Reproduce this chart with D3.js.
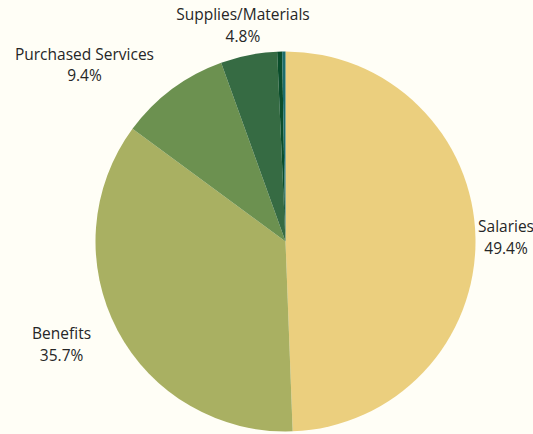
<!DOCTYPE html>
<html><head><meta charset="utf-8">
<script src="https://cdn.jsdelivr.net/npm/d3@7"></script>
<style>html,body{margin:0;padding:0;background:#FFFEF6;overflow:hidden}</style>
</head><body>
<svg id="chart" width="533" height="434"></svg>
<script>
const categories = ["Salaries","Benefits","Purchased Services","Supplies/Materials","Equipment","Other"];
const values = [49.4, 35.7, 9.4, 4.8, 0.42, 0.28];
const labels = ["49.4%","35.7%","9.4%","4.8%","",""];
const colors = ["#EBCF7E","#A9B062","#6C9150","#366B43","#0A4D2B","#1C6D6B"];

const W = 533, H = 434;
const cx = 285.5, cy = 241.5, R = 190;
const svg = d3.select("#chart");
svg.append("rect").attr("width",W).attr("height",H).attr("fill","#FFFEF6");
const g = svg.append("g").attr("transform",`translate(${cx},${cy})`);
const pie = d3.pie().sort(null).value(d=>d.v);
const data = categories.map((c,i)=>({c, v:values[i], l:labels[i], col:colors[i]}));
const arcs = pie(data);
const arc = d3.arc().innerRadius(0).outerRadius(R);
g.selectAll("path").data(arcs).join("path")
  .attr("d",arc).attr("fill",d=>d.data.col);

const lr = R + 30;
const fs = 15.5, lh = 21.5;
arcs.forEach(a=>{
  if(!a.data.l) return;
  const m = (a.startAngle+a.endAngle)/2;
  const s = Math.sin(m), c = Math.cos(m);
  const px = lr*s, py = -lr*c;
  const t = svg.append("text")
    .attr("font-family","'Open Sans', sans-serif").attr("font-size",fs)
    .attr("fill","#262626").attr("text-anchor","middle");
  t.append("tspan").attr("x",0).attr("dy",0).text(a.data.c);
  t.append("tspan").attr("x",0).attr("dy",lh).text(a.data.l);
  const bb = t.node().getBBox();
  const w = bb.width;
  let x;
  if (Math.abs(s) < 0.3) x = cx + px;
  else if (s > 0) x = cx + px + w/2;
  else x = cx + px - w/2;
  x = Math.max(w/2, Math.min(W - w/2 + 1, x));
  const y = cy + py - lh/2 + fs*0.35;
  t.attr("transform",`translate(${x},${y})`);
});
</script>
</body></html>
